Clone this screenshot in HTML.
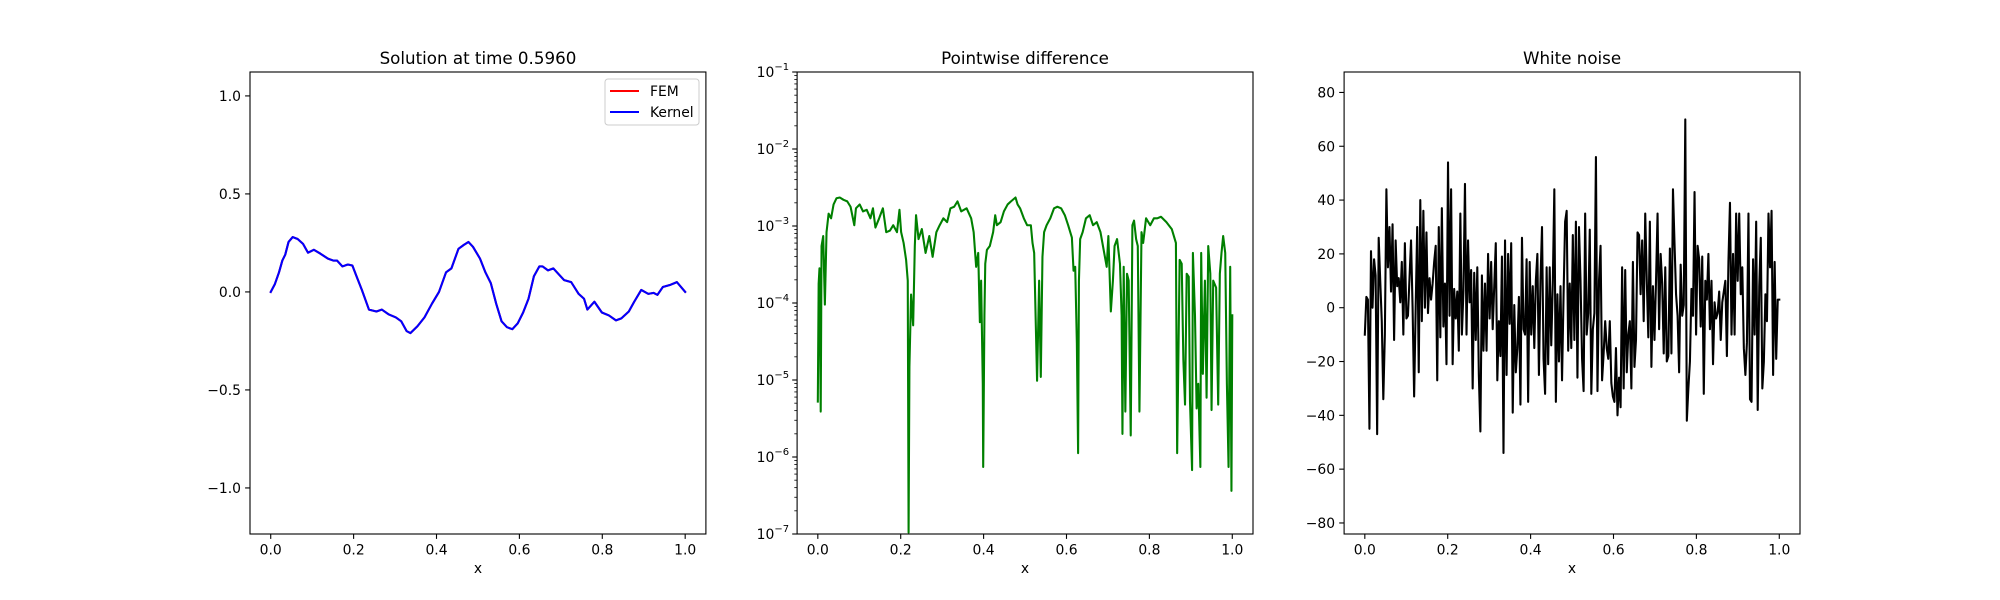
<!DOCTYPE html>
<html><head><meta charset="utf-8"><style>
html,body{margin:0;padding:0;background:#fff;}
svg{display:block;font-family:"DejaVu Sans","Liberation Sans",sans-serif;}
</style></head><body>
<svg id="fig" width="2000" height="600" viewBox="0 0 2000 600" xmlns="http://www.w3.org/2000/svg"></svg>
<script>
// ---- data: solution panel ----
const solX = [0,0.01,0.02,0.028,0.035,0.043,0.053,0.065,0.078,0.09,0.104,0.12,0.138,0.151,0.16,0.173,0.186,0.197,0.207,0.22,0.237,0.255,0.268,0.285,0.302,0.315,0.328,0.337,0.354,0.371,0.389,0.406,0.423,0.436,0.453,0.466,0.477,0.488,0.505,0.518,0.531,0.544,0.557,0.57,0.583,0.596,0.609,0.622,0.635,0.648,0.656,0.669,0.682,0.695,0.708,0.725,0.743,0.756,0.764,0.781,0.799,0.816,0.833,0.846,0.864,0.877,0.894,0.911,0.924,0.933,0.946,0.963,0.98,1.0];
const solFEM = [0,0.04,0.1,0.16,0.19,0.255,0.28,0.27,0.245,0.2,0.215,0.195,0.17,0.16,0.16,0.13,0.14,0.135,0.08,0.01,-0.09,-0.1,-0.09,-0.115,-0.13,-0.15,-0.2,-0.21,-0.175,-0.13,-0.06,0,0.1,0.12,0.22,0.24,0.255,0.23,0.17,0.1,0.045,-0.06,-0.15,-0.18,-0.19,-0.16,-0.105,-0.035,0.08,0.13,0.13,0.11,0.12,0.09,0.06,0.05,-0.01,-0.035,-0.09,-0.05,-0.105,-0.12,-0.145,-0.135,-0.1,-0.05,0.01,-0.01,-0.005,-0.015,0.025,0.035,0.05,0];
const solKernel = solFEM.slice();
const solXTicks = [0,0.2,0.4,0.6,0.8,1.0];
const solYTicks = [-1.0,-0.5,0.0,0.5,1.0];
// ---- data: pointwise difference (log10 of |FEM-Kernel|) ----
const diffX = [0,.002,.004,.007,.009,.013,.017,.021,.026,.032,.038,.045,.053,.062,.071,.079,.088,.092,.101,.109,.118,.127,.133,.139,.148,.157,.165,.174,.182,.191,.197,.201,.207,.213,.217,.219,.221,.225,.230,.234,.237,.243,.251,.260,.269,.277,.286,.294,.303,.312,.320,.329,.337,.346,.359,.370,.376,.382,.387,.391,.394,.398,.399,.402,.404,.408,.415,.423,.428,.432,.441,.449,.458,.466,.477,.482,.488,.497,.505,.514,.518,.522,.529,.534,.538,.542,.546,.552,.561,.570,.578,.587,.596,.604,.613,.617,.621,.625,.628,.630,.633,.639,.647,.656,.664,.673,.682,.688,.697,.701,.707,.712,.716,.722,.729,.733,.735,.738,.742,.746,.750,.755,.759,.763,.768,.772,.776,.781,.785,.792,.802,.811,.819,.828,.841,.854,.864,.867,.873,.878,.882,.886,.890,.895,.898,.903,.905,.910,.914,.918,.923,.925,.929,.934,.938,.942,.947,.950,.954,.961,.966,.970,.974,.978,.983,.987,.991,.995,.998,1.0];
const diffLog = [-5.28,-3.75,-3.55,-5.41,-3.26,-3.13,-4.02,-3.08,-2.84,-2.90,-2.72,-2.64,-2.63,-2.66,-2.68,-2.75,-2.99,-2.77,-2.72,-2.81,-2.79,-2.90,-2.77,-3.02,-2.90,-2.77,-3.08,-3.06,-2.99,-3.08,-2.79,-3.08,-3.22,-3.44,-3.71,-6.98,-4.83,-3.89,-4.29,-3.26,-2.86,-3.17,-3.04,-3.35,-3.13,-3.40,-3.08,-2.99,-2.90,-2.95,-2.77,-2.75,-2.68,-2.81,-2.77,-2.90,-3.08,-3.53,-3.35,-4.25,-3.71,-5.05,-6.13,-4.16,-3.49,-3.31,-3.26,-3.08,-2.86,-2.99,-2.95,-2.81,-2.72,-2.68,-2.63,-2.72,-2.77,-2.90,-2.99,-2.99,-3.22,-3.35,-5.01,-3.71,-4.96,-3.40,-3.08,-2.99,-2.90,-2.77,-2.75,-2.77,-2.86,-2.99,-3.15,-3.58,-3.53,-4.52,-5.95,-3.71,-3.17,-3.08,-2.90,-2.86,-2.99,-2.95,-3.08,-3.26,-3.53,-3.13,-4.11,-3.71,-3.26,-3.17,-3.49,-4.16,-5.70,-3.53,-5.41,-3.62,-3.71,-5.72,-2.99,-2.93,-3.17,-3.26,-5.41,-3.08,-3.22,-2.90,-2.99,-2.90,-2.90,-2.88,-2.95,-3.04,-3.22,-5.95,-3.44,-3.49,-4.74,-5.32,-3.62,-3.66,-5.28,-6.17,-3.35,-4.16,-5.37,-5.05,-6.13,-3.35,-4.92,-3.71,-5.23,-3.26,-3.62,-5.39,-3.71,-3.80,-5.32,-3.62,-3.35,-3.13,-3.35,-5.05,-6.13,-3.53,-6.44,-4.16];
const diffXTicks = [0,0.2,0.4,0.6,0.8,1.0];
const diffYExps = [-7,-6,-5,-4,-3,-2,-1];
// ---- data: white noise ----
const noiseY = [-10,4,3,-45,21,0,18,12,-47,26,10,-5,-34,-10,44,15,30,6,31,-12,25,8,11,2,17,-10,24,-4,-3,11,25,0,-33,0,30,-24,40,-5,36,0,28,-2,11,3,9,17,23,-27,30,-11,37,-7,9,-21,54,-3,44,-21,7,-4,6,-16,35,-10,6,46,-10,25,2,14,-30,13,-12,15,-25,-46,12,-16,9,-16,20,-4,17,-8,8,24,-27,-5,-18,19,-54,25,-25,20,-6,24,-39,1,-24,-15,4,-36,26,-8,-10,18,-35,17,-10,8,-15,10,20,-25,10,30,-19,-32,15,-21,15,-14,9,44,-35,5,-20,8,-27,5,32,36,-16,9,-15,27,-12,32,-26,30,10,-19,-31,35,-10,-2,29,-32,-8,-2,56,-31,10,23,-27,-17,-5,-15,-19,-5,-28,-33,-35,-15,-40,-26,-37,15,-30,14,-24,-10,-5,-30,17,-22,-12,28,27,5,25,-5,35,10,-11,32,-22,8,-12,10,35,-8,20,9,-17,15,-20,-18,22,-17,44,24,5,-3,-24,16,-3,1,70,-42,-30,-20,7,-3,43,-10,23,18,-7,19,-32,10,3,20,-8,10,-21,2,-4,-2,6,-12,2,6,10,-18,17,39,-10,20,-10,35,10,35,5,15,-15,-25,-13,35,-34,-35,18,-10,32,-38,8,26,-30,-20,5,-5,35,15,36,-25,17,-19,3,3];
const noiseXTicks = [0,0.2,0.4,0.6,0.8,1.0];
const noiseYTicks = [-80,-60,-40,-20,0,20,40,60,80];

const NS = "http://www.w3.org/2000/svg";
const svg = document.getElementById('fig');
const TOP = 72, BOT = 534;
function el(tag, attrs, parent, text){
  const e = document.createElementNS(NS, tag);
  for (const k in attrs) e.setAttribute(k, attrs[k]);
  if (text !== undefined) e.textContent = text;
  (parent || svg).appendChild(e);
  return e;
}
function fmt(v, d){ const s = v.toFixed(d); return s.replace('-', '\u2212'); }

function makeAxes(name, x0, x1, xmin, xmax, yfn){
  const g = el('g', {});
  
  
  const sx = v => x0 + (v - xmin) / (xmax - xmin) * (x1 - x0);
  return {g, sx, sy: yfn};
}
function frame(ax, x0, x1, y0, y1){
  const r = el('rect', {x:x0, y:y0, width:x1-x0, height:y1-y0, fill:'none', stroke:'#000', 'stroke-width':1.1}, ax.g);
  
  
}
function xTicks(ax, ticks, y1){
  ticks.forEach(t => {
    const X = ax.sx(t);
    el('line', {x1:X, x2:X, y1:y1, y2:y1+4.9, stroke:'#000', 'stroke-width':1.1}, ax.g);
    const tx = el('text', {x:X, y:y1+20.5, 'font-size':13.9, 'text-anchor':'middle', fill:'#000'}, ax.g, t.toFixed(1));
    
    
  });
}
function title(ax, cx, text){
  const t = el('text', {x:cx, y:64, 'font-size':16.7, 'text-anchor':'middle', fill:'#000'}, ax.g, text);
  
  
}
function xlabel(ax, cx){
  const t = el('text', {x:cx, y:573, 'font-size':13.9, 'text-anchor':'middle', fill:'#000'}, ax.g, 'x');
  
  
}
function line(ax, xs, ys, color, name, clip){
  const d = xs.map((x,i) => (i?'L':'M') + ax.sx(x).toFixed(2) + ',' + ax.sy(ys[i]).toFixed(2)).join('');
  const p = el('path', {d:d, fill:'none', stroke:color, 'stroke-width':2.08, 'stroke-linejoin':'round', 'stroke-linecap':'square', 'clip-path':clip}, ax.g);
  
  
}
function clipRect(id, x0, x1, y0, y1){
  const defs = el('defs', {});
  const cp = el('clipPath', {id:id}, defs);
  el('rect', {x:x0, y:y0, width:x1-x0, height:y1-y0}, cp);
  return 'url(#' + id + ')';
}

// ---- Panel 1 ----
(function(){
  const x0=250,x1=705.9,y0=TOP,y1=BOT, ymin=-1.235, ymax=1.122;
  const ax = makeAxes('solution-panel', x0,x1,-0.05,1.05, v => y0 + (ymax - v)/(ymax-ymin)*(y1-y0));
  const clip = clipRect('c1', x0,x1,y0,y1);
  line(ax, solX, solFEM, '#ff0000', 'fem-line', clip);
  line(ax, solX, solKernel, '#0000ff', 'kernel-line', clip);
  frame(ax,x0,x1,y0,y1);
  xTicks(ax, solXTicks, y1);
  solYTicks.forEach(t => {
    const Y = ax.sy(t);
    el('line', {x1:x0-4.9, x2:x0, y1:Y, y2:Y, stroke:'#000','stroke-width':1.1}, ax.g);
    const tx = el('text', {x:x0-9, y:Y+5, 'font-size':13.9, 'text-anchor':'end'}, ax.g, fmt(t,1));
    
    
  });
  title(ax, (x0+x1)/2, 'Solution at time 0.5960');
  xlabel(ax, (x0+x1)/2);
  const lg = el('g', {}, ax.g);
  
  
  el('rect', {x:605, y:79, width:94, height:46, rx:3, fill:'#fff', 'fill-opacity':0.8, stroke:'#cccccc', 'stroke-width':1}, lg);
  const e1 = el('g', {}, lg);
  
  
  el('line', {x1:610, x2:639, y1:91, y2:91, stroke:'#ff0000', 'stroke-width':2.08}, e1);
  el('text', {x:650, y:96, 'font-size':13.9}, e1, 'FEM');
  const e2 = el('g', {}, lg);
  
  
  el('line', {x1:610, x2:639, y1:112, y2:112, stroke:'#0000ff', 'stroke-width':2.08}, e2);
  el('text', {x:650, y:117, 'font-size':13.9}, e2, 'Kernel');
})();

// ---- Panel 2 (log) ----
(function(){
  const x0=797.1,x1=1253,y0=TOP,y1=BOT, lmin=-7, lmax=-1;
  const ax = makeAxes('difference-panel', x0,x1,-0.05,1.05, v => y0 + (lmax - v)/(lmax-lmin)*(y1-y0));
  const clip = clipRect('c2', x0,x1,y0,y1);
  line(ax, diffX, diffLog, '#008000', 'difference-line', clip);
  frame(ax,x0,x1,y0,y1);
  xTicks(ax, diffXTicks, y1);
  diffYExps.forEach((e,i) => {
    const Y = ax.sy(e);
    el('line', {x1:x0-4.9, x2:x0, y1:Y, y2:Y, stroke:'#000','stroke-width':1.1}, ax.g);
    const tx = el('text', {x:x0-8, y:Y+5, 'font-size':13.9, 'text-anchor':'end'}, ax.g);
    
    
    el('tspan', {}, tx, '10');
    el('tspan', {dy:-7, 'font-size':10}, tx, '\u2212' + Math.abs(e));
    if (i < diffYExps.length-1){
      for (let m=2;m<=9;m++){
        const Ym = ax.sy(e + Math.log10(m));
        el('line', {x1:x0-2.8, x2:x0, y1:Ym, y2:Ym, stroke:'#000','stroke-width':0.8}, ax.g);
      }
    }
  });
  title(ax, (x0+x1)/2, 'Pointwise difference');
  xlabel(ax, (x0+x1)/2);
})();

// ---- Panel 3 ----
(function(){
  const x0=1344.1,x1=1800,y0=TOP,y1=BOT, ymin=-84.1, ymax=87.6;
  const ax = makeAxes('white-noise-panel', x0,x1,-0.05,1.05, v => y0 + (ymax - v)/(ymax-ymin)*(y1-y0));
  const clip = clipRect('c3', x0,x1,y0,y1);
  const nx = noiseY.map((_,i) => i/(noiseY.length-1));
  line(ax, nx, noiseY, '#000000', 'noise-line', clip);
  frame(ax,x0,x1,y0,y1);
  xTicks(ax, noiseXTicks, y1);
  noiseYTicks.forEach(t => {
    const Y = ax.sy(t);
    el('line', {x1:x0-4.9, x2:x0, y1:Y, y2:Y, stroke:'#000','stroke-width':1.1}, ax.g);
    const tx = el('text', {x:x0-9, y:Y+5, 'font-size':13.9, 'text-anchor':'end'}, ax.g, fmt(t,0));
    
    
  });
  title(ax, (x0+x1)/2, 'White noise');
  xlabel(ax, (x0+x1)/2);
})();
</script>
</body></html>
